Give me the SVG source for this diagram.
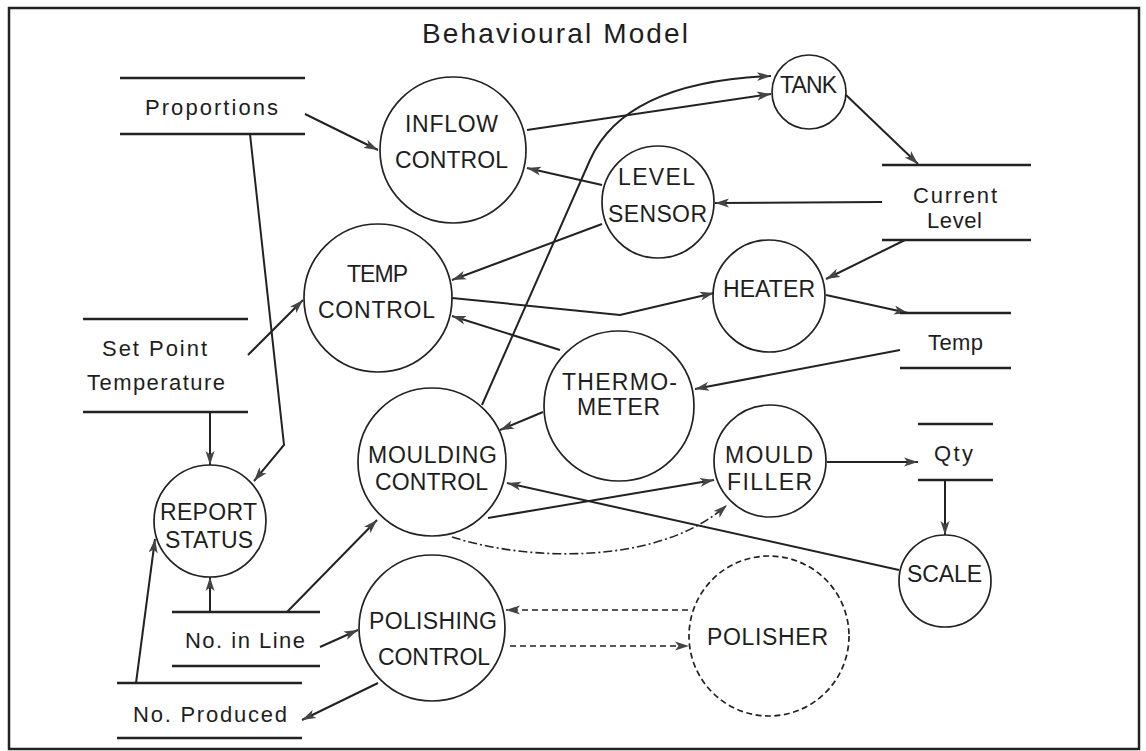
<svg xmlns="http://www.w3.org/2000/svg" width="1146" height="751" viewBox="0 0 1146 751">
  <style>
    .frame { fill: none; stroke: #222; stroke-width: 2.5; }
    .proc { fill: none; stroke: #222; stroke-width: 1.7; }
    .ext { fill: none; stroke: #222; stroke-width: 1.7; stroke-dasharray: 6 3.5; }
    .store line { stroke: #222; stroke-width: 2.3; }
    .flow { fill: none; stroke: #222; stroke-width: 2; marker-end: url(#arrow); }
    .dash { stroke-dasharray: 6 4; stroke-width: 1.7; }
    .dashdot { stroke-dasharray: 9 3 2 3; stroke-width: 1.6; }
    text { font-family: "Liberation Sans", Arial, sans-serif; fill: #1e1e1e; text-anchor: start; }
    .lbl { font-size: 23px; }
    .st { font-size: 22px; }
    .title { font-size: 28px; }
  </style>
  <defs>
    <marker id="arrow" markerUnits="userSpaceOnUse" markerWidth="15" markerHeight="10" refX="14" refY="5" orient="auto">
      <path d="M0,0.5 L14,5 L0,9.5 L3.5,5 z" fill="#444"/>
    </marker>
  </defs>

  <rect width="1146" height="751" fill="#fff"/>
  <rect class="frame" x="9" y="8" width="1130" height="741"/>
  <text class="title" x="422" y="43" textLength="266" lengthAdjust="spacing">Behavioural Model</text>

  <!-- connectors -->
  <g id="connectors">
    <line class="flow" x1="305" y1="114" x2="378" y2="150"/>
    <path class="flow" d="M250,134 L284,445 L254,481"/>
    <line class="flow" x1="210" y1="412" x2="210" y2="465"/>
    <line class="flow" x1="248" y1="355" x2="303" y2="300"/>
    <line class="flow" x1="527" y1="130" x2="771" y2="94"/>
    <path class="flow" d="M482,405 L590,160 Q625,82 771,76"/>
    <line class="flow" x1="846" y1="95" x2="918" y2="164"/>
    <line class="flow" x1="882" y1="202" x2="715" y2="203"/>
    <line class="flow" x1="602" y1="185" x2="527" y2="168"/>
    <line class="flow" x1="602" y1="224" x2="452" y2="280"/>
    <line class="flow" x1="905" y1="240" x2="826" y2="279"/>
    <path class="flow" d="M452,298 L620,315 L714,293"/>
    <line class="flow" x1="826" y1="295" x2="908" y2="313"/>
    <line class="flow" x1="560" y1="350" x2="452" y2="316"/>
    <line class="flow" x1="900" y1="350" x2="695" y2="389"/>
    <line class="flow" x1="543" y1="412" x2="500" y2="430"/>
    <line class="flow" x1="488" y1="518" x2="714" y2="480"/>
    <line class="flow" x1="899" y1="570" x2="507" y2="483"/>
    <line class="flow" x1="827" y1="462" x2="918" y2="462"/>
    <line class="flow" x1="945" y1="480" x2="945" y2="535"/>
    <path class="flow dashdot" d="M452,537 C530,562 660,565 727,505"/>
    <line class="flow dash" x1="688" y1="610" x2="506" y2="610"/>
    <line class="flow dash" x1="510" y1="646" x2="689" y2="646"/>
    <line class="flow" x1="210" y1="612" x2="210" y2="577"/>
    <line class="flow" x1="287" y1="612" x2="377" y2="520"/>
    <line class="flow" x1="320" y1="647" x2="358" y2="630"/>
    <line class="flow" x1="136" y1="683" x2="155" y2="539"/>
    <line class="flow" x1="378" y1="683" x2="302" y2="720"/>
  </g>

  <!-- processes -->
  <g id="inflow-control">
    <circle class="proc" cx="453" cy="150" r="73"/>
    <text class="lbl" x="405" y="132" textLength="93" lengthAdjust="spacing">INFLOW</text>
    <text class="lbl" x="395" y="168" textLength="113" lengthAdjust="spacing">CONTROL</text>
  </g>
  <g id="tank">
    <circle class="proc" cx="809" cy="92" r="37"/>
    <text class="lbl" x="780" y="93" textLength="57" lengthAdjust="spacing">TANK</text>
  </g>
  <g id="level-sensor">
    <circle class="proc" cx="658" cy="202" r="56"/>
    <text class="lbl" x="618" y="185" textLength="77" lengthAdjust="spacing">LEVEL</text>
    <text class="lbl" x="608" y="222" textLength="99" lengthAdjust="spacing">SENSOR</text>
  </g>
  <g id="temp-control">
    <circle class="proc" cx="378" cy="298" r="74"/>
    <text class="lbl" x="347" y="282" textLength="61" lengthAdjust="spacing">TEMP</text>
    <text class="lbl" x="318" y="318" textLength="117" lengthAdjust="spacing">CONTROL</text>
  </g>
  <g id="heater">
    <circle class="proc" cx="769" cy="296" r="56"/>
    <text class="lbl" x="723" y="297" textLength="92" lengthAdjust="spacing">HEATER</text>
  </g>
  <g id="thermometer">
    <circle class="proc" cx="619" cy="406" r="75"/>
    <text class="lbl" x="562" y="390" textLength="115" lengthAdjust="spacing">THERMO-</text>
    <text class="lbl" x="577" y="415" textLength="83" lengthAdjust="spacing">METER</text>
  </g>
  <g id="moulding-control">
    <circle class="proc" cx="432" cy="462" r="74"/>
    <text class="lbl" x="368" y="463" textLength="129" lengthAdjust="spacing">MOULDING</text>
    <text class="lbl" x="375" y="490" textLength="113" lengthAdjust="spacing">CONTROL</text>
  </g>
  <g id="mould-filler">
    <circle class="proc" cx="770" cy="461" r="56"/>
    <text class="lbl" x="725" y="463" textLength="88" lengthAdjust="spacing">MOULD</text>
    <text class="lbl" x="727" y="490" textLength="85" lengthAdjust="spacing">FILLER</text>
  </g>
  <g id="report-status">
    <circle class="proc" cx="210" cy="521" r="56"/>
    <text class="lbl" x="160" y="520" textLength="97" lengthAdjust="spacing">REPORT</text>
    <text class="lbl" x="165" y="548" textLength="88" lengthAdjust="spacing">STATUS</text>
  </g>
  <g id="scale">
    <circle class="proc" cx="945" cy="581" r="46"/>
    <text class="lbl" x="907" y="582" textLength="75" lengthAdjust="spacing">SCALE</text>
  </g>
  <g id="polishing-control">
    <circle class="proc" cx="432" cy="628" r="73"/>
    <text class="lbl" x="369" y="629" textLength="128" lengthAdjust="spacing">POLISHING</text>
    <text class="lbl" x="378" y="665" textLength="112" lengthAdjust="spacing">CONTROL</text>
  </g>
  <g id="polisher">
    <circle class="ext" cx="769" cy="636" r="80"/>
    <text class="lbl" x="707" y="645" textLength="121" lengthAdjust="spacing">POLISHER</text>
  </g>

  <!-- data stores -->
  <g id="proportions" class="store">
    <line x1="120" y1="78" x2="305" y2="78"/>
    <line x1="120" y1="134" x2="305" y2="134"/>
    <text class="st" x="145" y="115" textLength="133" lengthAdjust="spacing">Proportions</text>
  </g>
  <g id="current-level" class="store">
    <line x1="882" y1="165" x2="1031" y2="165"/>
    <line x1="882" y1="240" x2="1031" y2="240"/>
    <text class="st" x="913" y="203" textLength="84" lengthAdjust="spacing">Current</text>
    <text class="st" x="927" y="228" textLength="55" lengthAdjust="spacing">Level</text>
  </g>
  <g id="set-point-temperature" class="store">
    <line x1="83" y1="319" x2="248" y2="319"/>
    <line x1="83" y1="412" x2="248" y2="412"/>
    <text class="st" x="102" y="356" textLength="105" lengthAdjust="spacing">Set Point</text>
    <text class="st" x="87" y="390" textLength="138" lengthAdjust="spacing">Temperature</text>
  </g>
  <g id="temp" class="store">
    <line x1="900" y1="313" x2="1011" y2="313"/>
    <line x1="900" y1="368" x2="1011" y2="368"/>
    <text class="st" x="928" y="350" textLength="55" lengthAdjust="spacing">Temp</text>
  </g>
  <g id="qty" class="store">
    <line x1="918" y1="424" x2="993" y2="424"/>
    <line x1="918" y1="480" x2="993" y2="480"/>
    <text class="st" x="934" y="461" textLength="39" lengthAdjust="spacing">Qty</text>
  </g>
  <g id="no-in-line" class="store">
    <line x1="172" y1="612" x2="320" y2="612"/>
    <line x1="172" y1="666" x2="320" y2="666"/>
    <text class="st" x="185" y="648" textLength="120" lengthAdjust="spacing">No. in Line</text>
  </g>
  <g id="no-produced" class="store">
    <line x1="117" y1="683" x2="302" y2="683"/>
    <line x1="117" y1="738" x2="302" y2="738"/>
    <text class="st" x="133" y="722" textLength="154" lengthAdjust="spacing">No. Produced</text>
  </g>
</svg>
